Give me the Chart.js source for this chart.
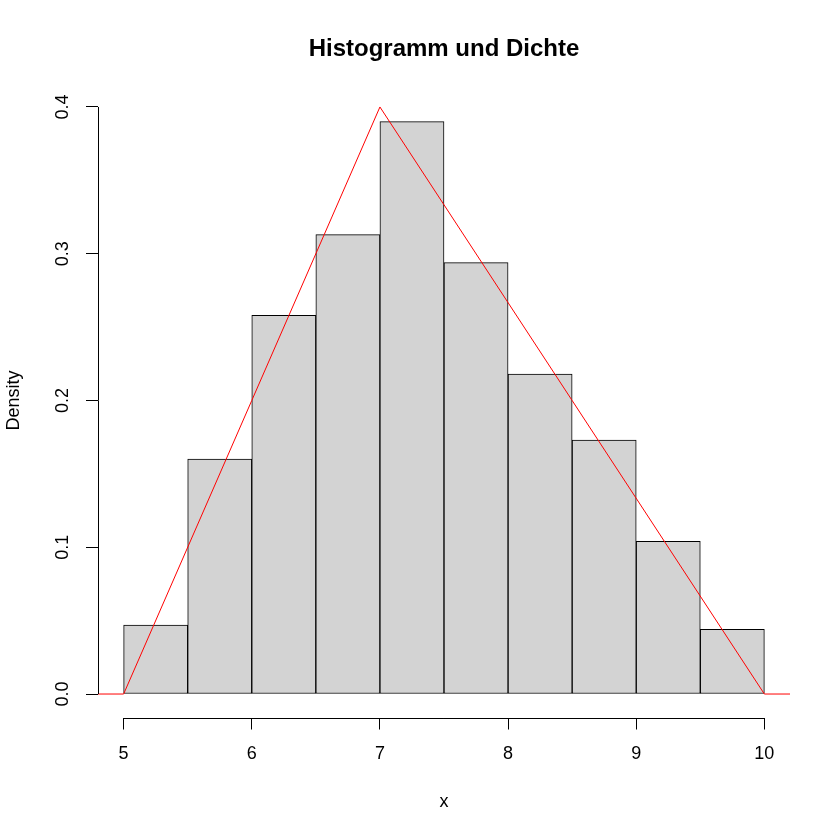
<!DOCTYPE html>
<html>
<head>
<meta charset="utf-8">
<script src="https://cdn.jsdelivr.net/npm/chart.js@4"></script>
<style>
  body { margin: 0; background: #fff; }
</style>
</head>
<body>
<canvas id="histChart" width="840" height="840"></canvas>
<script>
// Histogram data (density per bin)
const binBreaks = [5, 5.5, 6, 6.5, 7, 7.5, 8, 8.5, 9, 9.5, 10];
const binDensity = [0.047, 0.16, 0.258, 0.313, 0.39, 0.294, 0.218, 0.173, 0.104, 0.044];

// Triangular density curve
const curveX = [4.8, 5, 7, 10, 10.2];
const curveY = [0, 0, 0.4, 0, 0];

// Axis ticks
const xTicks = [5, 6, 7, 8, 9, 10];
const yTicks = [0, 0.1, 0.2, 0.3, 0.4];

const fontFamily = "'Liberation Sans', Arial, Helvetica, sans-serif";

// Bars placed at bin centres
var barPoints = [];
for (var i = 0; i < binDensity.length; i++) {
    barPoints.push({ x: (binBreaks[i] + binBreaks[i + 1]) / 2, y: binDensity[i] });
}

var curvePoints = curveX.map(function (x, i) { return { x: x, y: curveY[i] }; });

// R style axis lines, only from first to last tick; title centred over plot area
const axisLines = {
    id: 'axisLines',
    afterLayout: function (chart) {
        if (chart.titleBlock) {
            chart.titleBlock.left = chart.chartArea.left;
            chart.titleBlock.right = chart.chartArea.right;
        }
    },
    afterDraw: function (chart) {
        var ctx = chart.ctx;
        var xs = chart.scales.x, ys = chart.scales.y;
        var area = chart.chartArea;
        ctx.save();
        ctx.strokeStyle = '#000';
        ctx.lineWidth = 1;
        ctx.beginPath();
        var yb = Math.round(area.bottom) + 0.5;
        ctx.moveTo(xs.getPixelForValue(xTicks[0]), yb);
        ctx.lineTo(xs.getPixelForValue(xTicks[xTicks.length - 1]), yb);
        var xl = Math.round(area.left) + 0.5;
        ctx.moveTo(xl, ys.getPixelForValue(yTicks[0]));
        ctx.lineTo(xl, ys.getPixelForValue(yTicks[yTicks.length - 1]));
        ctx.stroke();
        ctx.restore();
    }
};

var ctx = document.getElementById('histChart').getContext('2d');
var histChart = new Chart(ctx, {
    type: 'bar',
    data: {
        datasets: [{
            type: 'line',
            data: curvePoints,
            borderColor: '#ff0000',
            borderWidth: 1,
            pointRadius: 0,
            tension: 0,
            fill: false,
            order: 0
        }, {
            type: 'bar',
            data: barPoints,
            backgroundColor: '#d3d3d3',
            borderColor: '#000',
            borderWidth: 1,
            borderSkipped: false,
            barPercentage: 1,
            categoryPercentage: 1,
            order: 1
        }]
    },
    options: {
        responsive: false,
        animation: false,
        layout: { padding: { top: 0, left: 0, right: 50, bottom: 0 } },
        plugins: {
            legend: { display: false },
            tooltip: { enabled: false },
            title: {
                display: true,
                text: 'Histogramm und Dichte',
                color: '#000',
                font: { family: fontFamily, size: 24, weight: 'bold' },
                padding: { top: 34.6, bottom: 20.1 }
            }
        },
        scales: {
            x: {
                type: 'linear',
                min: 4.8,
                max: 10.2,
                offset: false,
                afterBuildTicks: function (scale) {
                    scale.ticks = xTicks.map(function (v) { return { value: v }; });
                },
                afterFit: function (scale) { scale.height = 122.5; },
                grid: { offset: false, drawOnChartArea: false, drawTicks: true, tickLength: 12, color: '#000' },
                border: { display: false },
                ticks: {
                    color: '#000',
                    padding: 14,
                    maxRotation: 0,
                    font: { family: fontFamily, size: 18 }
                },
                title: {
                    display: true,
                    text: 'x',
                    color: '#000',
                    font: { family: fontFamily, size: 18 },
                    padding: { top: 0, bottom: 27.2 }
                }
            },
            y: {
                type: 'linear',
                min: -0.016,
                max: 0.416,
                afterBuildTicks: function (scale) {
                    scale.ticks = yTicks.map(function (v) { return { value: v }; });
                },
                afterFit: function (scale) { scale.width = 98; },
                grid: { drawOnChartArea: false, drawTicks: true, tickLength: 12, color: '#000' },
                border: { display: false },
                ticks: {
                    color: '#000',
                    padding: 10.5,
                    minRotation: 90,
                    maxRotation: 90,
                    crossAlign: 'center',
                    font: { family: fontFamily, size: 18 },
                    callback: function (v) { return v.toFixed(1); }
                },
                title: {
                    display: true,
                    text: 'Density',
                    color: '#000',
                    font: { family: fontFamily, size: 18 },
                    padding: { top: 3.2, bottom: 0 }
                }
            }
        }
    },
    plugins: [axisLines]
});
</script>
</body>
</html>
